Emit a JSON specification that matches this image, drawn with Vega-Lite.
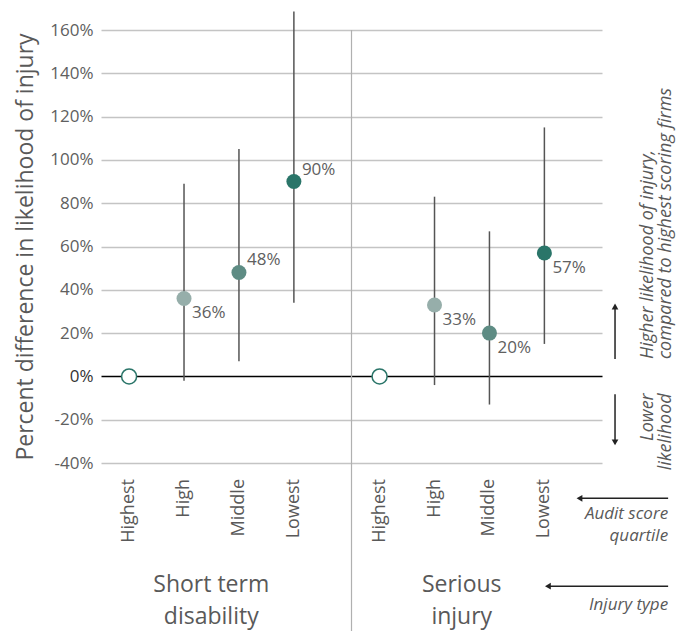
{
  "$schema": "https://vega.github.io/schema/vega-lite/v6.json",
  "width": 501,
  "height": 433,
  "padding": {"left": 14, "top": 10, "right": 5, "bottom": 5},
  "background": "white",
  "config": {"view": {"stroke": null}, "font": "Open Sans"},
  "data": {
    "values": [
      {"type": "Short term disability", "quartile": "Highest", "pct": 0, "lo": null, "hi": null},
      {"type": "Short term disability", "quartile": "High", "pct": 0.36, "lo": -0.02, "hi": 0.89},
      {"type": "Short term disability", "quartile": "Middle", "pct": 0.48, "lo": 0.07, "hi": 1.05},
      {"type": "Short term disability", "quartile": "Lowest", "pct": 0.90, "lo": 0.34, "hi": 1.685},
      {"type": "Serious injury", "quartile": "Highest", "pct": 0, "lo": null, "hi": null},
      {"type": "Serious injury", "quartile": "High", "pct": 0.33, "lo": -0.04, "hi": 0.83},
      {"type": "Serious injury", "quartile": "Middle", "pct": 0.20, "lo": -0.13, "hi": 0.67},
      {"type": "Serious injury", "quartile": "Lowest", "pct": 0.57, "lo": 0.15, "hi": 1.15}
    ]
  },
  "resolve": {"scale": {"x": "independent"}},
  "layer": [
    {
      "encoding": {
        "x": {
          "field": "type", "type": "nominal",
          "sort": ["Short term disability", "Serious injury"],
          "scale": {"paddingInner": 0, "paddingOuter": 0},
          "axis": {
            "title": null, "domain": false, "ticks": false, "grid": false,
            "labelAngle": 0, "labelPadding": 110, "labelFontSize": 23,
            "labelLineHeight": 32, "labelColor": "#595959", "labelOffset": -15,
            "labelBaseline": "top",
            "labelExpr": "datum.value === 'Short term disability' ? ['Short term', 'disability'] : ['Serious', 'injury']"
          }
        },
        "xOffset": {
          "field": "quartile", "type": "nominal",
          "sort": ["Highest", "High", "Middle", "Lowest"],
          "scale": {"paddingInner": 0, "paddingOuter": 0.28, "align": 0.02}
        }
      },
      "layer": [
        {
          "mark": {"type": "rule", "color": "#555555", "strokeWidth": 1.5},
          "encoding": {
            "y": {
              "field": "lo", "type": "quantitative",
              "scale": {"domain": [-0.4, 1.6], "nice": false, "zero": false},
              "axis": {
                "title": "Percent difference in likelihood of injury",
                "titleFontSize": 23, "titleColor": "#595959", "titleFontWeight": "normal",
                "titlePadding": 12,
                "format": ".0%",
                "labelExpr": "replace(datum.label, '\u2212', '-')",
                "values": [-0.4, -0.2, 0, 0.2, 0.4, 0.6, 0.8, 1.0, 1.2, 1.4, 1.6],
                "labelFontSize": 17,
                "labelColor": {"condition": {"test": "datum.value === 0", "value": "#333333"}, "value": "#606060"},
                "labelPadding": 8, "ticks": false, "domain": false,
                "gridColor": {"condition": {"test": "datum.value === 0", "value": "#000000"}, "value": "#c4c4c4"},
                "gridWidth": 1.5
              }
            },
            "y2": {"field": "hi"}
          }
        },
        {
          "mark": {"type": "point", "filled": true, "size": 225, "opacity": 1, "strokeWidth": 1.5},
          "encoding": {
            "y": {"field": "pct", "type": "quantitative"},
            "color": {
              "field": "quartile", "type": "nominal",
              "scale": {"domain": ["Highest", "High", "Middle", "Lowest"], "range": ["#ffffff", "#96aeaa", "#5e8c84", "#2a7569"]},
              "legend": null
            },
            "stroke": {"condition": {"test": "datum.quartile === 'Highest'", "value": "#2a7569"}, "value": "transparent"}
          }
        },
        {
          "transform": [{"filter": "datum.type === 'Short term disability' && (datum.quartile === 'Middle' || datum.quartile === 'Lowest')"}],
          "mark": {"type": "text", "align": "left", "baseline": "middle", "dx": 8, "dy": -12, "fontSize": 17, "color": "#606060"},
          "encoding": {
            "y": {"field": "pct", "type": "quantitative"},
            "text": {"field": "pct", "type": "quantitative", "format": ".0%"}
          }
        },
        {
          "transform": [{"filter": "datum.quartile !== 'Highest' && !(datum.type === 'Short term disability' && (datum.quartile === 'Middle' || datum.quartile === 'Lowest'))"}],
          "mark": {"type": "text", "align": "left", "baseline": "middle", "dx": 8, "dy": 15, "fontSize": 17, "color": "#606060"},
          "encoding": {
            "y": {"field": "pct", "type": "quantitative"},
            "text": {"field": "pct", "type": "quantitative", "format": ".0%"}
          }
        },
        {
          "mark": {"type": "text", "align": "right", "baseline": "middle", "angle": 270, "dx": -16, "fontSize": 18, "color": "#595959"},
          "encoding": {
            "y": {"datum": -0.4, "type": "quantitative"},
            "text": {"field": "quartile"}
          }
        },
        {
          "data": {"values": [{}]},
          "mark": {"type": "rule", "color": "#b0b0b0", "strokeWidth": 1.2},
          "encoding": {
            "x": {"datum": "Serious injury", "type": "nominal", "bandPosition": 0},
            "xOffset": null,
            "y": {"datum": 1.6, "type": "quantitative"},
            "y2": {"datum": -1.18}
          }
        }
      ]
    },
    {
      "data": {"values": [{}]},
      "encoding": {
        "x": {"datum": 1, "type": "quantitative", "scale": {"domain": [0, 1], "nice": false, "zero": false}, "axis": null}
      },
      "layer": [
        {
          "mark": {"type": "text", "align": "left", "baseline": "top", "angle": 270, "fontSize": 18, "fontStyle": "italic", "lineHeight": 18, "color": "#595959",
                   "text": ["Higher likelihood of injury,", "compared to highest scoring firms"]},
          "encoding": {"x": {"datum": 1.074, "type": "quantitative"}, "y": {"datum": 0.08, "type": "quantitative"}}
        },
        {
          "mark": {"type": "text", "align": "right", "baseline": "top", "angle": 270, "fontSize": 18, "fontStyle": "italic", "lineHeight": 18, "color": "#595959",
                   "text": ["Lower", "likelihood"]},
          "encoding": {"x": {"datum": 1.074, "type": "quantitative"}, "y": {"datum": -0.078, "type": "quantitative"}}
        },
        {
          "mark": {"type": "rule", "color": "#222222", "strokeWidth": 1.5},
          "encoding": {"x": {"datum": 1.026, "type": "quantitative"}, "y": {"datum": 0.08, "type": "quantitative"}, "y2": {"datum": 0.32}}
        },
        {
          "mark": {"type": "point", "shape": "triangle-up", "filled": true, "size": 45, "color": "#222222", "opacity": 1},
          "encoding": {"x": {"datum": 1.026, "type": "quantitative"}, "y": {"datum": 0.323, "type": "quantitative"}}
        },
        {
          "mark": {"type": "rule", "color": "#222222", "strokeWidth": 1.5},
          "encoding": {"x": {"datum": 1.026, "type": "quantitative"}, "y": {"datum": -0.083, "type": "quantitative"}, "y2": {"datum": -0.31}}
        },
        {
          "mark": {"type": "point", "shape": "triangle-down", "filled": true, "size": 45, "color": "#222222", "opacity": 1},
          "encoding": {"x": {"datum": 1.026, "type": "quantitative"}, "y": {"datum": -0.305, "type": "quantitative"}}
        },
        {
          "mark": {"type": "rule", "color": "#222222", "strokeWidth": 1.5},
          "encoding": {"x": {"datum": 1.132, "type": "quantitative"}, "x2": {"datum": 0.955}, "y": {"datum": -0.563, "type": "quantitative"}}
        },
        {
          "mark": {"type": "point", "shape": "triangle-left", "filled": true, "size": 45, "color": "#222222", "opacity": 1},
          "encoding": {"x": {"datum": 0.955, "type": "quantitative"}, "y": {"datum": -0.563, "type": "quantitative"}}
        },
        {
          "mark": {"type": "rule", "color": "#222222", "strokeWidth": 1.5},
          "encoding": {"x": {"datum": 1.132, "type": "quantitative"}, "x2": {"datum": 0.892}, "y": {"datum": -0.969, "type": "quantitative"}}
        },
        {
          "mark": {"type": "point", "shape": "triangle-left", "filled": true, "size": 45, "color": "#222222", "opacity": 1},
          "encoding": {"x": {"datum": 0.892, "type": "quantitative"}, "y": {"datum": -0.969, "type": "quantitative"}}
        },
        {
          "mark": {"type": "text", "align": "right", "baseline": "top", "fontSize": 17, "fontStyle": "italic", "lineHeight": 22, "color": "#595959",
                   "text": ["Audit score", "quartile"]},
          "encoding": {"x": {"datum": 1.132, "type": "quantitative"}, "y": {"datum": -0.6, "type": "quantitative"}}
        },
        {
          "mark": {"type": "text", "align": "right", "baseline": "middle", "fontSize": 17, "fontStyle": "italic", "color": "#595959",
                   "text": "Injury type"},
          "encoding": {"x": {"datum": 1.132, "type": "quantitative"}, "y": {"datum": -1.056, "type": "quantitative"}}
        }
      ]
    }
  ]
}
